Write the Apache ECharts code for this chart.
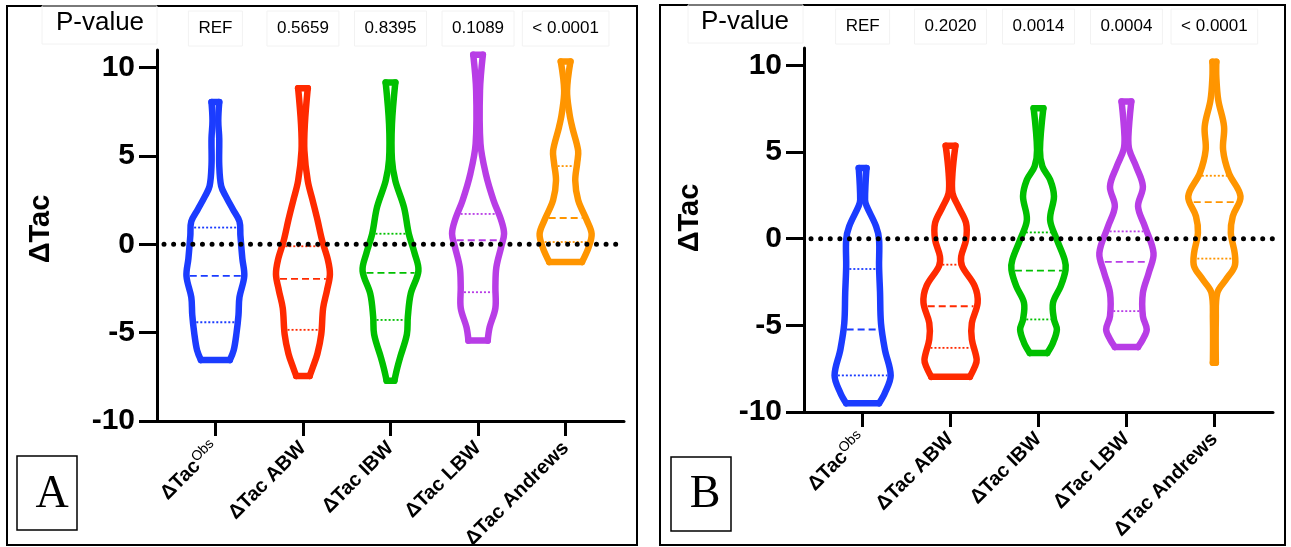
<!DOCTYPE html>
<html>
<head>
<meta charset="utf-8">
<script src="https://cdn.jsdelivr.net/npm/echarts@6/dist/echarts.min.js"></script>
<style>
html,body{margin:0;padding:0;background:#fff;}
#chart{width:1291px;height:547px;}
</style>
</head>
<body>
<div id="chart"></div>
<script>
// ---------- DATA ----------
const categoryBase = ['ΔTac', 'ΔTac ABW', 'ΔTac IBW', 'ΔTac LBW', 'ΔTac Andrews'];
const categorySup  = ['Obs', '', '', '', ''];
const pValuesA = ['REF', '0.5659', '0.8395', '0.1089', '< 0.0001'];
const pValuesB = ['REF', '0.2020', '0.0014', '0.0004', '< 0.0001'];
const yTicks = [-10, -5, 0, 5, 10];
const colors = ['#1b3cff', '#ff2a00', '#00c000', '#b83de6', '#ff9500'];

// violin outlines: [value, half-width in category units], bottom to top
const violinA_Obs = [[-6.55,0.15],[-6.0,0.19],[-5.0,0.22],[-4.0,0.24],[-3.0,0.25],[-1.8,0.30],[-0.8,0.28],[0.5,0.26],[1.3,0.25],[2.0,0.18],[2.7,0.11],[3.3,0.06],[4.5,0.04],[6.0,0.04],[7.0,0.03],[8.05,0.04]];
const violinA_ABW = [[-7.45,0.07],[-7.0,0.10],[-6.2,0.15],[-5.1,0.19],[-3.6,0.21],[-2.6,0.25],[-1.7,0.28],[-0.9,0.26],[0.2,0.20],[1.4,0.15],[2.5,0.10],[3.6,0.05],[5.3,0.015],[6.8,0.02],[8.84,0.05]];
const violinA_IBW = [[-7.72,0.04],[-7.0,0.07],[-6.4,0.10],[-5.1,0.17],[-4.1,0.18],[-2.8,0.21],[-1.5,0.29],[-0.5,0.25],[0.6,0.19],[2.1,0.14],[3.6,0.05],[4.8,0.015],[6.8,0.015],[9.16,0.05]];
const violinA_LBW = [[-5.45,0.10],[-4.7,0.12],[-3.6,0.18],[-2.4,0.18],[-1.3,0.19],[-0.15,0.24],[0.6,0.27],[1.36,0.24],[2.5,0.16],[4.0,0.08],[5.7,0.025],[8.7,0.02],[10.73,0.05]];
const violinA_Andrews = [[-1.0,0.17],[-0.15,0.24],[0.6,0.27],[1.36,0.22],[2.5,0.13],[3.6,0.10],[4.6,0.12],[5.3,0.13],[6.6,0.07],[7.4,0.04],[8.7,0.015],[10.35,0.05]];

const violinB_Obs = [[-9.5,0.17],[-8.9,0.23],[-7.9,0.29],[-6.4,0.23],[-4.9,0.19],[-3.1,0.18],[-1.6,0.17],[-0.06,0.17],[0.7,0.14],[1.9,0.04],[2.25,0.025],[4.07,0.04]];
const violinB_ABW = [[-7.97,0.20],[-7.4,0.25],[-6.97,0.27],[-5.8,0.22],[-4.86,0.22],[-3.7,0.28],[-2.74,0.25],[-1.59,0.12],[-1.02,0.11],[-0.06,0.16],[0.9,0.16],[1.86,0.08],[2.63,0.02],[3.78,0.02],[5.36,0.05]];
const violinB_IBW = [[-6.6,0.09],[-6.0,0.15],[-5.24,0.19],[-4.66,0.16],[-3.7,0.15],[-2.74,0.23],[-1.79,0.28],[-1.21,0.27],[-0.06,0.19],[1.09,0.12],[2.44,0.16],[3.4,0.12],[4.17,0.04],[5.12,0.015],[7.52,0.05]];
const violinB_LBW = [[-6.25,0.12],[-5.8,0.17],[-5.24,0.21],[-4.47,0.17],[-3.13,0.17],[-1.98,0.23],[-0.83,0.28],[0.71,0.19],[1.86,0.12],[3.01,0.17],[4.17,0.10],[5.12,0.03],[5.89,0.02],[7.91,0.05]];
const violinB_Andrews = [[-7.16,0.015],[-4.66,0.015],[-3.13,0.03],[-2.36,0.12],[-1.59,0.21],[-0.83,0.21],[0.33,0.17],[1.29,0.19],[2.44,0.27],[3.78,0.15],[5.12,0.09],[6.47,0.10],[8.0,0.04],[9.35,0.02],[10.21,0.02]];

// quartiles: [Q1, median, Q3]
const quartilesA = [[-4.41,-1.78,0.95],[-4.84,-1.95,-0.11],[-4.28,-1.61,0.60],[-2.71,0.23,1.72],[0.13,1.49,4.43]];
const quartilesB = [[-7.89,-5.24,-1.75],[-6.30,-3.90,-1.50],[-4.66,-1.84,0.36],[-4.18,-1.34,0.42],[-1.15,2.11,3.63]];

const profilesA = [violinA_Obs, violinA_ABW, violinA_IBW, violinA_LBW, violinA_Andrews];
const profilesB = [violinB_Obs, violinB_ABW, violinB_IBW, violinB_LBW, violinB_Andrews];
const positions = [1, 2, 3, 4, 5];

// ---------- RENDER ----------
const FONT = '"Liberation Sans", Arial, Helvetica, sans-serif';
const STROKE = 6.5;
const WSCALE = 1.1;

function hwAt(prof, y) {
  if (y <= prof[0][0]) return prof[0][1];
  for (let k = 1; k < prof.length; k++) {
    if (y <= prof[k][0]) {
      const a = prof[k-1], b = prof[k];
      const t = (y - a[0]) / (b[0] - a[0]);
      return a[1] + t * (b[1] - a[1]);
    }
  }
  return prof[prof.length-1][1];
}

function makeRender(profiles, quarts) {
  return function (params, api) {
    const i = params.dataIndex;
    const c = api.value(0);
    const prof = profiles[i];
    const col = colors[i];
    const left = prof.map(p => api.coord([c - p[1] * WSCALE, p[0]]));
    const right = prof.map(p => api.coord([c + p[1] * WSCALE, p[0]]));
    const st = { stroke: col, lineWidth: STROKE, fill: null, lineCap: 'round', lineJoin: 'round' };
    const children = [
      { type: 'polyline', shape: { points: left, smooth: 0.35 }, style: st },
      { type: 'polyline', shape: { points: right, smooth: 0.35 }, style: st },
      { type: 'line', shape: { x1: left[0][0], y1: left[0][1], x2: right[0][0], y2: right[0][1] }, style: st },
      { type: 'line', shape: { x1: left[left.length-1][0], y1: left[left.length-1][1], x2: right[right.length-1][0], y2: right[right.length-1][1] }, style: st }
    ];
    quarts[i].forEach((q, k) => {
      const hw = hwAt(prof, q) * WSCALE;
      const p1 = api.coord([c - hw, q]);
      const p2 = api.coord([c + hw, q]);
      const inset = STROKE / 2;
      children.push({
        type: 'line',
        shape: { x1: p1[0] + inset, y1: p1[1], x2: p2[0] - inset, y2: p2[1] },
        style: { stroke: col, lineWidth: 1.8, lineDash: k === 1 ? [7, 4] : [2, 2], fill: null }
      });
    });
    return { type: 'group', children };
  };
}

const XMIN = 0.3333, XMAX = 5.6667;

function bottomX(gridIndex) {
  return {
    type: 'value', gridIndex, min: XMIN, max: XMAX, position: 'bottom',
    splitLine: { show: false },
    axisLine: { show: true, onZero: false, lineStyle: { color: '#000', width: 3 } },
    axisTick: { show: true, customValues: positions, length: 15, lineStyle: { color: '#000', width: 3 } },
    axisLabel: {
      customValues: positions, rotate: 45, margin: 24,
      formatter: v => {
        const i = Math.round(v) - 1;
        return '{b|' + categoryBase[i] + '}' + (categorySup[i] ? '{s|' + categorySup[i] + '}' : '');
      },
      rich: {
        b: { fontFamily: FONT, fontSize: 20, fontWeight: 'bold', color: '#000', lineHeight: 24 },
        s: { fontFamily: FONT, fontSize: 14, color: '#000', verticalAlign: 'top', lineHeight: 14 }
      }
    }
  };
}
function topX(gridIndex, labels) {
  return {
    type: 'value', gridIndex, min: XMIN, max: XMAX, position: 'top',
    splitLine: { show: false }, axisLine: { show: false }, axisTick: { show: false },
    axisLabel: {
      customValues: positions, margin: 4,
      formatter: v => labels[Math.round(v) - 1],
      fontFamily: FONT, fontSize: 17, color: '#000',
      padding: [9, 10, 9, 10], borderColor: '#f2f2f2', borderWidth: 1
    }
  };
}
function yAx(gridIndex) {
  return {
    type: 'value', gridIndex, min: -10, max: 11, interval: 5,
    splitLine: { show: false },
    axisLine: { show: true, onZero: false, lineStyle: { color: '#000', width: 3 } },
    axisTick: { show: true, customValues: yTicks, length: 18, lineStyle: { color: '#000', width: 3 } },
    axisLabel: { customValues: yTicks, margin: 22, fontFamily: FONT, fontSize: 30, fontWeight: 'bold', color: '#000' }
  };
}

function zeroLine(xi, yi) {
  return {
    type: 'line', xAxisIndex: xi, yAxisIndex: yi, z: 5, silent: true,
    data: [[XMIN + 0.08, 0], [XMAX, 0]], symbol: 'none',
    lineStyle: { color: '#000', width: 5, type: [0.01, 9.6], cap: 'round' }
  };
}

const chart = echarts.init(document.getElementById('chart'), null, { renderer: 'canvas' });
chart.setOption({
  animation: false,
  backgroundColor: '#fff',
  grid: [
    { left: 157, top: 50, width: 467, height: 371, containLabel: false, outerBoundsMode: 'none' },
    { left: 804, top: 48, width: 469, height: 364, containLabel: false, outerBoundsMode: 'none' }
  ],
  xAxis: [bottomX(0), bottomX(1), topX(0, pValuesA), topX(1, pValuesB)],
  yAxis: [yAx(0), yAx(1)],
  series: [
    { type: 'custom', xAxisIndex: 0, yAxisIndex: 0, z: 3, data: positions.map(p => [p]), encode: { x: 0 }, renderItem: makeRender(profilesA, quartilesA) },
    { type: 'custom', xAxisIndex: 1, yAxisIndex: 1, z: 3, data: positions.map(p => [p]), encode: { x: 0 }, renderItem: makeRender(profilesB, quartilesB) },
    zeroLine(0, 0),
    zeroLine(1, 1)
  ],
  graphic: [
    { type: 'rect', shape: { x: 7, y: 6, width: 630, height: 539 }, style: { fill: null, stroke: '#000', lineWidth: 2 } },
    { type: 'rect', shape: { x: 660, y: 5, width: 625, height: 540 }, style: { fill: null, stroke: '#000', lineWidth: 2 } },
    { type: 'rect', shape: { x: 42, y: 6, width: 115, height: 38 }, style: { fill: null, stroke: '#f2f2f2', lineWidth: 1 } },
    { type: 'rect', shape: { x: 688, y: 5, width: 115, height: 38 }, style: { fill: null, stroke: '#f2f2f2', lineWidth: 1 } },
    { type: 'text', x: 100, y: 23, style: { text: 'P-value', font: '26px ' + FONT, fill: '#000', textAlign: 'center', textVerticalAlign: 'middle' } },
    { type: 'text', x: 745, y: 22, style: { text: 'P-value', font: '26px ' + FONT, fill: '#000', textAlign: 'center', textVerticalAlign: 'middle' } },
    { type: 'text', x: 41, y: 229, rotation: Math.PI / 2, style: { text: 'ΔTac', font: 'bold 29px ' + FONT, fill: '#000', textAlign: 'center', textVerticalAlign: 'middle' } },
    { type: 'text', x: 690, y: 218, rotation: Math.PI / 2, style: { text: 'ΔTac', font: 'bold 29px ' + FONT, fill: '#000', textAlign: 'center', textVerticalAlign: 'middle' } },
    { type: 'rect', shape: { x: 17, y: 456, width: 60, height: 74 }, style: { fill: '#fff', stroke: '#000', lineWidth: 1.5 } },
    { type: 'text', x: 52, y: 495, style: { text: 'A', font: '46px "Liberation Serif", "Times New Roman", serif', fill: '#000', textAlign: 'center', textVerticalAlign: 'middle' } },
    { type: 'rect', shape: { x: 671, y: 457, width: 60, height: 74 }, style: { fill: '#fff', stroke: '#000', lineWidth: 1.5 } },
    { type: 'text', x: 705, y: 495, style: { text: 'B', font: '46px "Liberation Serif", "Times New Roman", serif', fill: '#000', textAlign: 'center', textVerticalAlign: 'middle' } }
  ]
});
</script>
</body>
</html>
